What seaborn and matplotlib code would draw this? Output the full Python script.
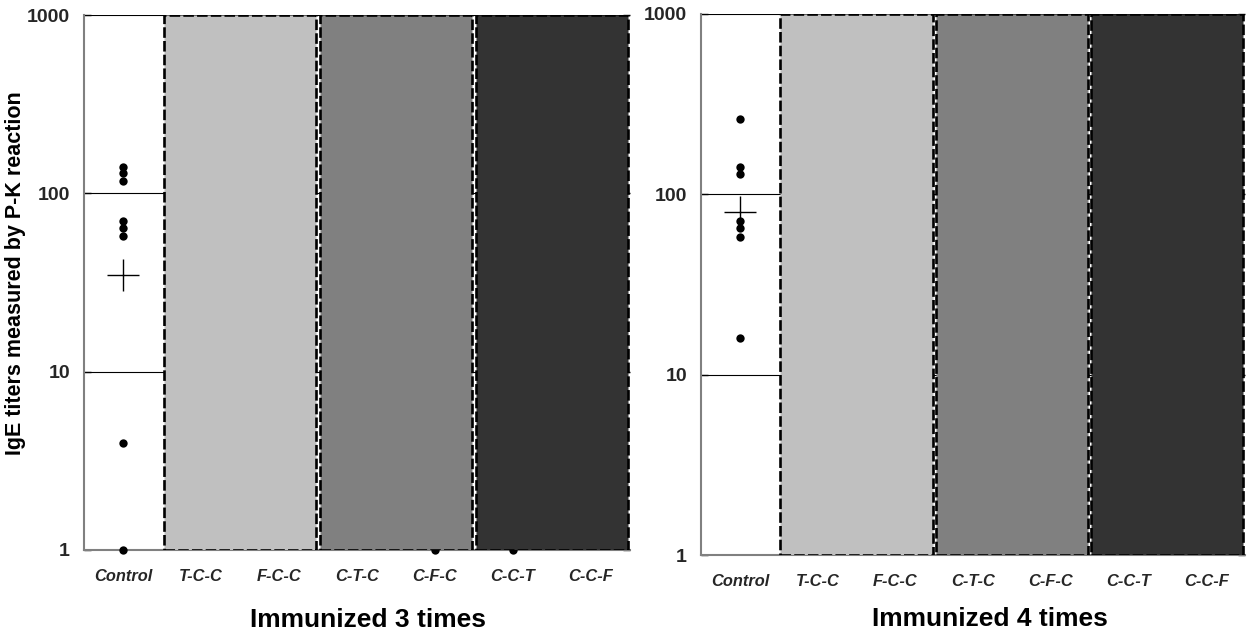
import matplotlib
matplotlib.use("Agg")
import matplotlib.pyplot as plt
from matplotlib.ticker import NullLocator
import pandas as pd
import seaborn as sns

# ---------------- data ----------------
categories = ["Control", "T-C-C", "F-C-C", "C-T-C", "C-F-C", "C-C-T", "C-C-F"]

group_names = ["T-C-C / F-C-C", "C-T-C / C-F-C", "C-C-T / C-C-F"]
group_members = [("T-C-C", "F-C-C"), ("C-T-C", "C-F-C"), ("C-C-T", "C-C-F")]
group_tops = [1000, 1000, 1000]
group_colors = ["#c0c0c0", "#808080", "#333333"]

panel3_cat = ["Control"] * 8 + ["C-F-C", "C-C-T"]
panel3_val = [140, 130, 118, 70, 64, 58, 4, 1, 1, 1]
panel3_gmean = 35

panel4_cat = ["Control"] * 7
panel4_val = [261, 142, 129, 71, 65, 58, 16]
panel4_gmean = 80

yticks = [1, 10, 100, 1000]
ytick_labels = ["1", "10", "100", "1000"]
titles = ["Immunized 3 times", "Immunized 4 times"]
ylabel = "IgE titers measured by P-K reaction"

# ---------------- style ----------------
sns.set_theme(style="white")
plt.rcParams["font.family"] = ["Liberation Sans", "DejaVu Sans"]

fig = plt.figure(figsize=(12.48, 6.32), dpi=100)
W, H = 1248, 632
ax3 = fig.add_axes([84 / W, 1 - 550 / H, 546 / W, 535 / H])
ax4 = fig.add_axes([701 / W, 1 - 555 / H, 544 / W, 541 / H])

group_pos = [(categories.index(a) + categories.index(b)) / 2 for a, b in group_members]


def draw_panel(ax, cats, vals, gmean, title, label_coords, with_ylabel):
    ax.set_yscale("log")
    pts = pd.DataFrame({"pos": [categories.index(c) for c in cats], "val": vals})
    sns.stripplot(data=pts, x="pos", y="val", native_scale=True, jitter=False,
                  color="black", size=6.0, linewidth=0, zorder=1.5,
                  clip_on=False, ax=ax)
    bars = pd.DataFrame({"pos": group_pos, "top": group_tops, "grp": group_names})
    sns.barplot(data=bars, x="pos", y="top", hue="grp", palette=group_colors,
                native_scale=True, width=0.98, errorbar=None, legend=False,
                bottom=1, edgecolor="black", linewidth=1.9,
                linestyle=(0, (4.0, 1.2)), zorder=2, ax=ax)
    sns.scatterplot(x=[categories.index("Control")], y=[gmean], marker="+",
                    s=520, color="black", linewidth=1.0, zorder=3, ax=ax)

    ax.set_xlim(-0.5, len(categories) - 0.5)
    ax.set_ylim(1, 1000)
    ax.set_yticks(yticks, ytick_labels)
    ax.yaxis.set_minor_locator(NullLocator())
    ax.set_xticks(range(len(categories)), categories)
    ax.set_axisbelow(True)
    ax.grid(axis="y", which="major", color="black", linewidth=0.8)
    ax.grid(axis="x", visible=False)

    for lab in ax.get_yticklabels():
        lab.set_fontweight("bold")
    for lab in ax.get_xticklabels():
        lab.set_fontweight("bold")
        lab.set_fontstyle("italic")
    ax.tick_params(axis="y", which="major", direction="in", length=5, width=1,
                   color="black", left=True, right=True, labelsize=14, pad=10)
    ax.tick_params(axis="x", length=0, labelsize=11.8, pad=14)

    for side in ["top", "right"]:
        ax.spines[side].set_visible(False)
    for side in ["left", "bottom"]:
        ax.spines[side].set_color("#808080")
        ax.spines[side].set_linewidth(1.5)
        ax.spines[side].set_zorder(1.2)

    ax.set_xlabel(title, fontsize=19, fontweight="bold", color="black")
    ax.xaxis.set_label_coords(*label_coords)
    if with_ylabel:
        ax.set_ylabel(ylabel, fontsize=15.5, fontweight="bold", color="black")
        ax.yaxis.set_label_coords(-0.106, 0.518)
    else:
        ax.set_ylabel("")


draw_panel(ax3, panel3_cat, panel3_val, panel3_gmean, titles[0], (0.52, -0.108), True)
draw_panel(ax4, panel4_cat, panel4_val, panel4_gmean, titles[1], (0.531, -0.096), False)

fig.savefig("out.png", dpi=100)
